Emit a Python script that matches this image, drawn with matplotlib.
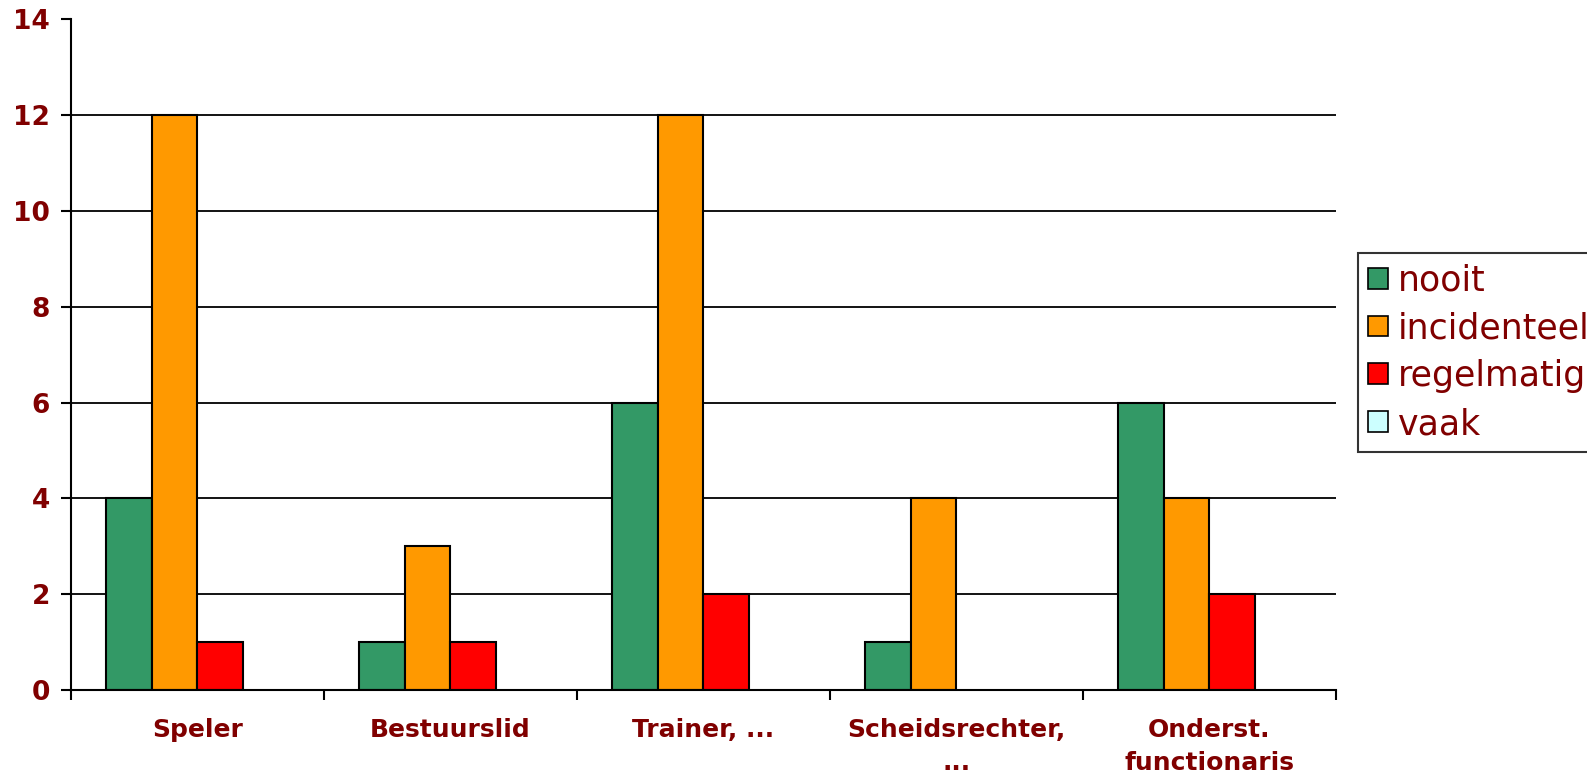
import matplotlib
matplotlib.use("Agg")
import matplotlib.pyplot as plt
from matplotlib.patches import Patch
import numpy as np

# Data
categorieen = ["Speler", "Bestuurslid", "Trainer, ...", "Scheidsrechter,\n...", "Onderst.\nfunctionaris"]
nooit = [4, 1, 6, 1, 6]
incidenteel = [12, 3, 12, 4, 4]
regelmatig = [1, 1, 2, 0, 2]
vaak = [0, 0, 0, 0, 0]
reeksen = ["nooit", "incidenteel", "regelmatig", "vaak"]
kleuren = ["#339966", "#FF9900", "#FF0000", "#CCFFFF"]
y_ticks = [0, 2, 4, 6, 8, 10, 12, 14]

tekstkleur = "#800000"

fig = plt.figure(figsize=(15.87, 7.77), dpi=100)
ax = fig.add_axes([0.0446, 0.112, 0.797, 0.863])

x = np.arange(len(categorieen))
breedte = 0.18
waarden = [nooit, incidenteel, regelmatig, vaak]
for i, (w, kl) in enumerate(zip(waarden, kleuren)):
    hoogtes = np.array(w, dtype=float)
    mask = hoogtes > 0
    ax.bar(x[mask] + (i - 1.5) * breedte, hoogtes[mask], width=breedte,
           color=kl, edgecolor="black", linewidth=1.5, zorder=3)

# Assen
ax.set_xlim(-0.5, len(categorieen) - 0.5)
ax.set_ylim(0, 14)
ax.set_yticks(y_ticks)
ax.set_yticklabels([str(t) for t in y_ticks], color=tekstkleur,
                   fontsize=19, fontweight="bold")
for t in y_ticks[1:-1]:
    ax.axhline(t, color="black", linewidth=1.3, zorder=1)

ax.set_xticks(x)
ax.set_xticklabels(categorieen, color=tekstkleur, fontsize=18, fontweight="bold",
                   linespacing=1.5)
ax.tick_params(axis="x", which="major", length=0, pad=20)
ax.set_xticks(np.arange(-0.5, len(categorieen)), minor=True)
ax.tick_params(axis="x", which="minor", length=7, width=1.5, direction="out")
ax.tick_params(axis="y", length=7, width=1.5, direction="out", pad=8)

for s in ["top", "right"]:
    ax.spines[s].set_visible(False)
for s in ["left", "bottom"]:
    ax.spines[s].set_linewidth(1.5)
    ax.spines[s].set_zorder(4)

# Legenda
handles = [Patch(facecolor=kl, edgecolor="black", linewidth=1.2) for kl in kleuren]
leg = fig.legend(handles, reeksen, loc="upper left",
                 bbox_to_anchor=(1358 / 1587, 1 - 253 / 777),
                 fontsize=25, frameon=True, fancybox=False,
                 edgecolor="black", handlelength=0.55, handleheight=0.55,
                 handletextpad=0.3, borderpad=0.3, labelspacing=0.4,
                 borderaxespad=0)
leg.get_frame().set_linewidth(1.5)
for t in leg.get_texts():
    t.set_color(tekstkleur)

plt.savefig("out.png", dpi=100)
plt.close()
